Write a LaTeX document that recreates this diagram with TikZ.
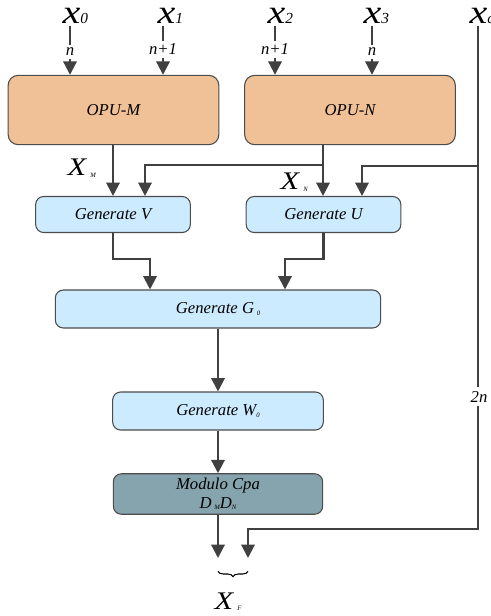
\documentclass[tikz,border=0pt]{standalone}
\usepackage{fontspec}
\setmainfont{Liberation Serif}
\usetikzlibrary{arrows.meta,decorations.pathreplacing}

\definecolor{opuorange}{HTML}{F0C096}
\definecolor{genblue}{HTML}{CCEBFF}
\definecolor{modgray}{HTML}{86A4AE}
\definecolor{linegray}{HTML}{404040}

\newcommand{\tinysub}[1]{\raisebox{-1pt}{\fontsize{5}{5}\selectfont #1}}
\newcommand{\wideltr}[1]{\scalebox{1.2}[1]{#1}}

\begin{document}
\begin{tikzpicture}[x=0.75pt,y=-0.75pt,
    font=\itshape\fontsize{12.5}{14}\selectfont,
    inbig/.style={anchor=base west,inner sep=1pt,font=\itshape\fontsize{25}{25}\selectfont},
    bigx/.style={anchor=base west,inner sep=1pt,font=\itshape\fontsize{19}{19}\selectfont},
    small/.style={anchor=base,inner sep=2pt},
    opu/.style={draw=black!70,line width=0.8pt,fill=opuorange,rounded corners=7.5pt,
        minimum width=158pt,minimum height=52pt},
    gen/.style={draw=black!70,line width=0.8pt,fill=genblue,rounded corners=6pt,minimum height=27pt},
    modbox/.style={gen,fill=modgray,minimum width=157pt,minimum height=28.5pt,align=center},
    line/.style={draw=linegray,line width=1.6pt},
    arr/.style={line,-{Triangle[length=10pt,width=10pt]}},
    brc/.style={draw=black,line width=0.8pt,decorate,decoration={brace,mirror,amplitude=4pt}}]
    \useasboundingbox (0,0) rectangle (491,616);

    % 输入
    \node[inbig] (x0) at (61,24) {\wideltr{x}{\fontsize{11.5}{11.5}\selectfont 0}};
    \node[inbig] (x1) at (156,24) {\wideltr{x}{\fontsize{11.5}{11.5}\selectfont 1}};
    \node[inbig] (x2) at (266,24) {\wideltr{x}{\fontsize{11.5}{11.5}\selectfont 2}};
    \node[inbig] (x3) at (362,24) {\wideltr{x}{\fontsize{11.5}{11.5}\selectfont 3}};
    \node[inbig] (xc) at (468,24) {\wideltr{x}{\fontsize{11.5}{11.5}\selectfont c}};
    \node[small] (n0) at (70,56) {n};
    \node[small] (n1) at (163,55) {n+1};
    \node[small] (n2) at (275,55) {n+1};
    \node[small] (n3) at (372,56) {n};

    % 设置模块
    \node[opu] (opum) at (113.5,110) {OPU-M};
    \node[opu] (opun) at (350,110) {OPU-N};
    \node[gen,minimum width=116pt] (genv) at (113,214.5) {Generate V};
    \node[gen,minimum width=116pt] (genu) at (323.5,214.5) {Generate U};
    \node[gen,minimum width=244pt,minimum height=28.5pt] (geng) at (218,309) {Generate G\,\tinysub{0}};
    \node[gen,minimum width=158pt,minimum height=28.5pt] (genw) at (218,411) {Generate W\tinysub{0}};
    \node[modbox] (mod) at (218,494) {Modulo Cpa\\D\,\tinysub{M}D\tinysub{N}};

    % 标签
    \node[bigx] (xm) at (66,176) {\wideltr{X}\,\tinysub{M}};
    \node[bigx] (xn) at (279,190) {\wideltr{X}\,\tinysub{N}};
    \node[small,inner sep=3pt] (tn) at (479,402) {2n};
    \node[bigx] (xf) at (213,609) {\wideltr{X}\,\tinysub{F}};

    % 折点
    \coordinate (nb) at (323,165);
    \coordinate (vb) at (145,165);
    \coordinate (cb) at (478,166);
    \coordinate (ub) at (362,166);
    \coordinate (vg) at (150,259);
    \coordinate (ug) at (285,259);
    \coordinate (cc) at (478,529);
    \coordinate (fl) at (218,558);
    \coordinate (fr) at (248,558);

    % 输入的边
    \draw[line] (x0.south -| n0) -- (n0.north);
    \draw[line] (x1.south -| n1) -- (n1.north);
    \draw[line] (x2.south -| n2) -- (n2.north);
    \draw[line] (x3.south -| n3) -- (n3.north);
    \draw[arr] (n0.south) -- (n0.south |- opum.north);
    \draw[arr] (n1.south) -- (n1.south |- opum.north);
    \draw[arr] (n2.south) -- (n2.south |- opun.north);
    \draw[arr] (n3.south) -- (n3.south |- opun.north);

    % 中间的边
    \draw[arr] (opum.south -| genv.north) -- (genv.north);
    \draw[line] (opun.south -| nb) -- (nb);
    \draw[arr] (nb) -- (nb |- genu.north);
    \draw[arr] (nb) -| (vb |- genv.north);
    \draw[line] (xc.south -| cb) -- (cb);
    \draw[arr] (cb) -| (ub |- genu.north);
    \draw[arr] (genv.south) |- (vg) -- (vg |- geng.north);
    \draw[arr] (genu.south) |- (ug) -- (ug |- geng.north);
    \draw[arr] (geng.south) -- (genw.north);
    \draw[arr] (genw.south) -- (mod.north);

    % 输出的边
    \draw[line] (cb) -- (tn.north -| cb);
    \draw[arr] (tn.south -| cc) -- (cc) -| (fr);
    \draw[arr] (mod.south) -- (fl);
    \draw[brc] ([yshift=-10pt]fl) -- ([yshift=-10pt]fr);
\end{tikzpicture}
\end{document}
